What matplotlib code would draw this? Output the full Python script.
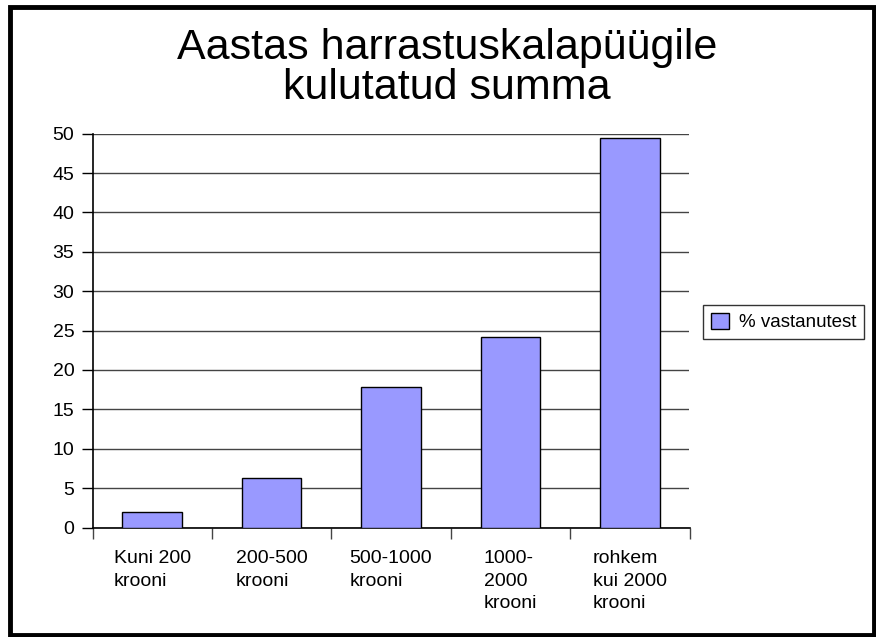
import matplotlib
matplotlib.use("Agg")
import matplotlib.pyplot as plt
from matplotlib.patches import Rectangle, Patch

categories = ["Kuni 200\nkrooni", "200-500\nkrooni", "500-1000\nkrooni", "1000-\n2000\nkrooni", "rohkem\nkui 2000\nkrooni"]
values = [2.0, 6.3, 17.9, 24.2, 49.5]
yticks = [0, 5, 10, 15, 20, 25, 30, 35, 40, 45, 50]
series_name = "% vastanutest"
title = "Aastas harrastuskalapüügile\nkulutatud summa"

plt.rcParams['font.family'] = ['Liberation Sans', 'DejaVu Sans']

W, H = 876, 637
fig = plt.figure(figsize=(W / 100, H / 100), dpi=100)
fig.patch.set_facecolor("white")

ax = fig.add_axes([92.5 / W, 1 - 527.5 / H, (689.5 - 92.5) / W, (527.5 - 133.7) / H])
x = list(range(len(categories)))
ax.set_axisbelow(True)
ax.bar(x, values, width=0.5, color="#9999FF", edgecolor="black", linewidth=1.0, zorder=3)

ax.set_xlim(-0.5, len(categories) - 0.5)
ax.set_ylim(0, 50)
ax.set_yticks(yticks)
ax.yaxis.grid(True, color="#444444", linewidth=1.0)
ax.tick_params(axis="y", length=8, width=1, pad=5, labelsize=14, color="black")

ax.set_xticks(x)
ax.set_xticklabels(categories, fontsize=14, ha="center", multialignment="left", linespacing=1.45)
ax.set_xticks([i - 0.5 for i in range(len(categories) + 1)], minor=True)
ax.tick_params(axis="x", which="major", length=0, pad=16)
ax.tick_params(axis="x", which="minor", length=8, width=1, color="#444444")

for s in ["top", "right"]:
    ax.spines[s].set_visible(False)
ax.spines["left"].set_color("black")
ax.spines["bottom"].set_color("black")
ax.spines["left"].set_linewidth(1.2)
ax.spines["bottom"].set_linewidth(1.2)

fig.text(447 / W, 1 - 68 / H, title, ha="center", va="center", fontsize=31, linespacing=1.0)

handle = Patch(facecolor="#9999FF", edgecolor="black", linewidth=1.0)
leg = fig.legend([handle], [series_name], loc="center left",
                 bbox_to_anchor=(703 / W, 1 - 322 / H), fontsize=13.5,
                 frameon=True, fancybox=False, edgecolor="black",
                 handlelength=1.0, handleheight=1.0, handletextpad=0.5,
                 borderpad=0.4, borderaxespad=0)
leg.get_frame().set_linewidth(1.0)

# figure border
fig.add_artist(Rectangle((9.5 / W, 2 / H), (874 - 9.5) / W, (630 - 2) / H,
                         transform=fig.transFigure, fill=False,
                         edgecolor="black", linewidth=3.5))

fig.savefig("out.png", dpi=100, facecolor="white")
